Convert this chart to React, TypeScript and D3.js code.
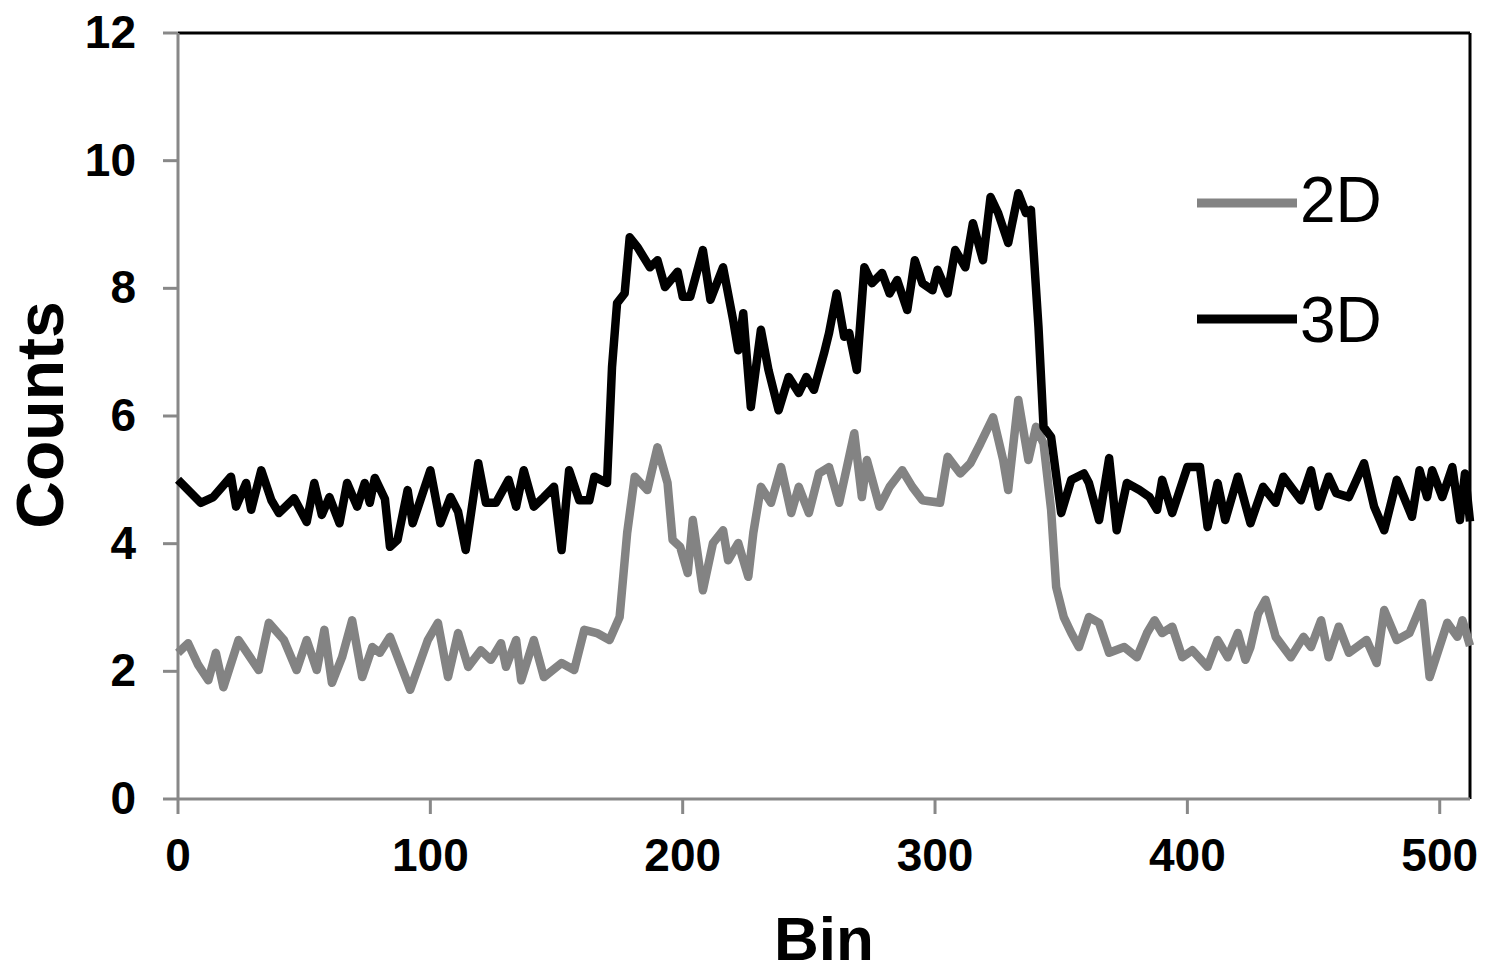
import React from 'react';
import * as d3 from 'd3';

// 2D series (bin, counts)
const bins2D = [
  0, 4, 8, 12, 15, 18, 24, 32, 36, 42, 47, 51, 55, 58, 61, 65, 69, 73, 77, 80,
  84, 92, 99, 103, 107, 111, 115, 120, 124, 128, 130, 134, 136, 141, 145, 152, 157, 161, 166, 171,
  175, 178, 181, 186, 190, 194, 196, 199, 202, 204, 208, 212, 216, 218, 222, 226, 228, 231, 235, 239,
  243, 246, 250, 254, 258, 262, 268, 271, 273, 278, 282, 287, 291, 295, 302, 305, 310, 314, 318, 323,
  327, 329, 333, 337, 340, 343, 346, 348, 351, 354, 357, 361, 365, 369, 375, 380, 384, 387, 390, 394,
  398, 402, 408, 412, 416, 420, 423, 425, 428, 431, 435, 441, 446, 449, 453, 456, 460, 464, 471, 475,
  478, 483, 488, 493, 496, 503, 507, 509, 512
];
const counts2D = [
  2.29, 2.44, 2.1, 1.86, 2.29, 1.75, 2.49, 2.02, 2.76, 2.49, 2.02, 2.49, 2.02, 2.65, 1.82, 2.22, 2.8, 1.91, 2.38, 2.29,
  2.54, 1.71, 2.49, 2.76, 1.91, 2.6, 2.07, 2.33, 2.18, 2.44, 2.07, 2.49, 1.86, 2.49, 1.91, 2.13, 2.02, 2.65, 2.6, 2.49,
  2.85, 4.17, 5.05, 4.84, 5.51, 4.95, 4.06, 3.95, 3.54, 4.37, 3.27, 4.01, 4.21, 3.74, 4.01, 3.48, 4.17, 4.89, 4.64, 5.2,
  4.48, 4.89, 4.48, 5.1, 5.2, 4.64, 5.73, 4.73, 5.31, 4.58, 4.89, 5.15, 4.89, 4.68, 4.64, 5.36, 5.1, 5.26, 5.57, 5.98,
  5.31, 4.84, 6.25, 5.31, 5.83, 5.57, 4.53, 3.32, 2.85, 2.6, 2.38, 2.85, 2.76, 2.29, 2.38, 2.22, 2.6, 2.8, 2.6, 2.7,
  2.22, 2.33, 2.07, 2.49, 2.22, 2.6, 2.18, 2.38, 2.9, 3.12, 2.54, 2.22, 2.54, 2.38, 2.8, 2.22, 2.7, 2.29, 2.49, 2.13,
  2.96, 2.49, 2.6, 3.07, 1.91, 2.76, 2.54, 2.8, 2.4
];

// 3D series (bin, counts)
const bins3D = [
  0, 9, 14, 21, 23, 27, 29, 33, 37, 40, 46, 51, 54, 57, 60, 64, 67, 71, 74, 76,
  78, 82, 84, 87, 91, 93, 100, 104, 108, 111, 114, 119, 122, 126, 131, 134, 137, 141, 145, 149,
  152, 155, 159, 163, 165, 170, 172, 174, 177, 179, 182, 187, 190, 193, 198, 200, 203, 208, 211, 216,
  220, 222, 224, 227, 231, 234, 238, 242, 246, 249, 252, 256, 258, 261, 264, 266, 269, 272, 275, 279,
  282, 285, 289, 292, 295, 299, 301, 305, 308, 312, 315, 319, 322, 325, 329, 333, 336, 338, 341, 343,
  346, 350, 354, 359, 361, 365, 369, 372, 376, 381, 385, 388, 390, 394, 400, 405, 408, 412, 415, 420,
  425, 430, 435, 438, 445, 449, 452, 456, 459, 464, 470, 474, 478, 483, 489, 492, 495, 497, 501, 505,
  508, 510, 512
];
const counts3D = [
  5.0, 4.64, 4.73, 5.05, 4.58, 4.95, 4.53, 5.15, 4.68, 4.48, 4.71, 4.34, 4.95, 4.45, 4.73, 4.32, 4.95, 4.58, 4.95, 4.64,
  5.03, 4.7, 3.95, 4.06, 4.84, 4.32, 5.15, 4.32, 4.73, 4.5, 3.9, 5.26, 4.64, 4.64, 5.0, 4.58, 5.15, 4.58, 4.73, 4.89,
  3.9, 5.15, 4.68, 4.68, 5.05, 4.95, 6.77, 7.77, 7.92, 8.8, 8.65, 8.33, 8.44, 8.02, 8.26, 7.87, 7.87, 8.6, 7.82, 8.33,
  7.5, 7.03, 7.61, 6.14, 7.35, 6.72, 6.09, 6.61, 6.36, 6.61, 6.41, 6.98, 7.3, 7.92, 7.24, 7.3, 6.72, 8.33, 8.08, 8.24,
  7.92, 8.13, 7.66, 8.44, 8.08, 7.97, 8.29, 7.92, 8.6, 8.33, 9.02, 8.44, 9.43, 9.18, 8.71, 9.49, 9.18, 9.23, 7.39, 5.83,
  5.67, 4.48, 5.0, 5.1, 4.95, 4.37, 5.34, 4.21, 4.95, 4.84, 4.73, 4.53, 5.0, 4.48, 5.2, 5.2, 4.26, 4.95, 4.37, 5.05,
  4.32, 4.89, 4.64, 5.05, 4.68, 5.15, 4.58, 5.05, 4.79, 4.73, 5.26, 4.58, 4.21, 5.0, 4.42, 5.15, 4.73, 5.15, 4.73, 5.2,
  4.37, 5.1, 4.35
];

const xTicks = [0, 100, 200, 300, 400, 500];
const yTicks = [0, 2, 4, 6, 8, 10, 12];
const seriesNames = ['2D', '3D'];

const W = 1490;
const H = 977;
const m = { left: 178, right: 1470, top: 33, bottom: 799 };
const font = '"Liberation Sans", Arial, sans-serif';
const axisGray = '#888888';
const gray = '#838383';

export default function App() {
  const x = d3.scaleLinear().domain([0, 512]).range([m.left, m.right]);
  const y = d3.scaleLinear().domain([0, 12]).range([m.bottom, m.top]);

  const line = d3.line<[number, number]>()
    .x(d => x(d[0]))
    .y(d => y(d[1]));

  const d2 = line(bins2D.map((b, i) => [b, counts2D[i]] as [number, number])) || '';
  const d3D = line(bins3D.map((b, i) => [b, counts3D[i]] as [number, number])) || '';

  return (
    <svg width={W} height={H} style={{ position: 'absolute', left: 0, top: 0, background: '#fff' }}
      fontFamily={font}>
      {/* frame: top and right in black */}
      <line x1={m.left} x2={m.right} y1={m.top} y2={m.top} stroke="#000" strokeWidth={3} />
      <line x1={m.right} x2={m.right} y1={m.top} y2={m.bottom} stroke="#000" strokeWidth={3} />

      {/* y axis */}
      <line x1={m.left} x2={m.left} y1={m.top} y2={m.bottom} stroke={axisGray} strokeWidth={3} />
      {yTicks.map(t => (
        <g key={'y' + t}>
          <line x1={m.left - 15} x2={m.left} y1={y(t)} y2={y(t)} stroke={axisGray} strokeWidth={3} />
          <text x={136} y={y(t) + 15} textAnchor="end" fontSize={46} fontWeight="bold" fill="#000">{t}</text>
        </g>
      ))}

      {/* x axis */}
      <line x1={m.left} x2={m.right} y1={m.bottom} y2={m.bottom} stroke={axisGray} strokeWidth={3} />
      {xTicks.map(t => (
        <g key={'x' + t}>
          <line x1={x(t)} x2={x(t)} y1={m.bottom} y2={m.bottom + 15} stroke={axisGray} strokeWidth={3} />
          <text x={x(t)} y={871} textAnchor="middle" fontSize={46} fontWeight="bold" fill="#000">{t}</text>
        </g>
      ))}

      {/* series */}
      <path d={d2} fill="none" stroke={gray} strokeWidth={8.5} strokeLinejoin="round" />
      <path d={d3D} fill="none" stroke="#000" strokeWidth={8.5} strokeLinejoin="round" />

      {/* legend */}
      {seriesNames.map((s, i) => (
        <g key={s}>
          <line x1={1197} x2={1297} y1={203 + i * 116} y2={203 + i * 116}
            stroke={i === 0 ? gray : '#000'} strokeWidth={9} />
          <text x={1300} y={222 + i * 120} fontSize={64} fill="#000">{s}</text>
        </g>
      ))}

      {/* axis titles */}
      <text x={(m.left + m.right) / 2} y={960} textAnchor="middle" fontSize={62} fontWeight="bold" fill="#000">Bin</text>
      <text transform="translate(63, 415) rotate(-90)" textAnchor="middle" fontSize={66} fontWeight="bold" fill="#000">Counts</text>
    </svg>
  );
}
